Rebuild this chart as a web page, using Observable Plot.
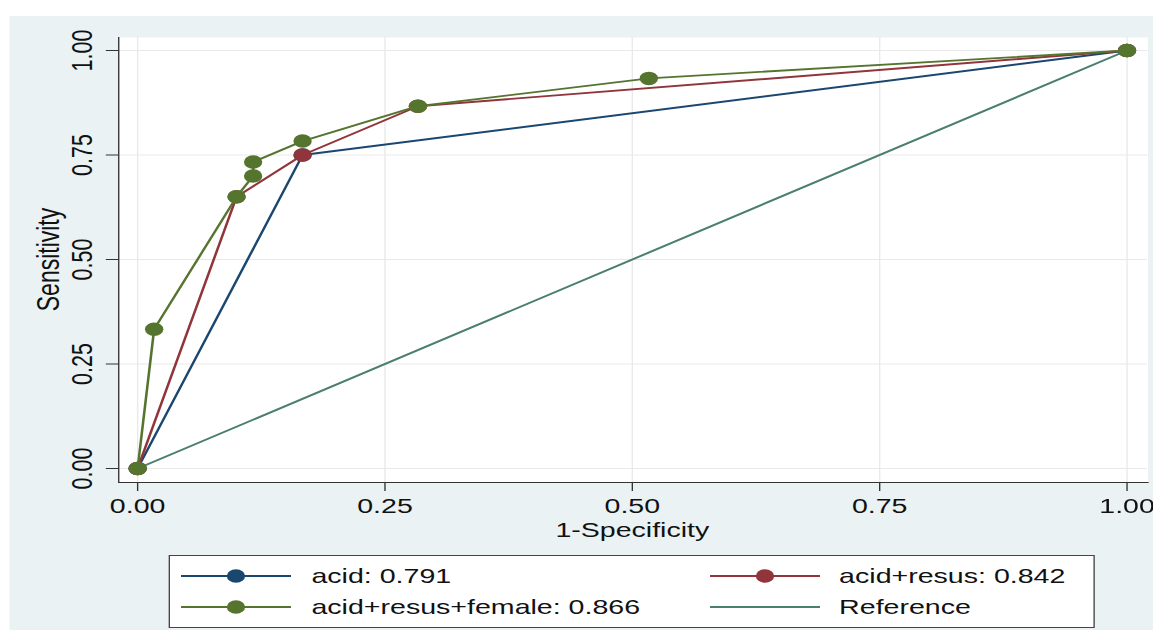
<!DOCTYPE html>
<html><head><meta charset="utf-8">
<script src="https://cdn.jsdelivr.net/npm/d3@7"></script>
<script src="https://cdn.jsdelivr.net/npm/@observablehq/plot@0.6"></script>
<style>
html,body{margin:0;padding:0;background:#fff;width:1153px;height:630px;overflow:hidden;font-family:"Liberation Sans",Arial,sans-serif;}
#wrap{position:absolute;left:0;top:0;width:848px;height:630px;transform:scaleX(1.36);transform-origin:0 0;}
#bg{position:absolute;left:7.4px;top:16px;right:0;bottom:0;background:#eaf2f3;}
#chart{position:absolute;left:0;top:0;}
#legend{position:absolute;left:123.5px;top:555px;width:681px;height:73px;background:#fff;border:1px solid #444;box-sizing:border-box;}
.item{position:absolute;height:24px;}
.item svg{position:absolute;left:0;top:2px;}
.item span{position:absolute;top:0;white-space:nowrap;font-size:21px;line-height:24px;color:#111;}
</style>
</head><body>
<div id="wrap"><div id="bg"></div><div id="chart"></div><div id="legend"></div></div>
<script>
// ---- data ----
const xTicks = [0, 0.25, 0.5, 0.75, 1];
const yTicks = [0, 0.25, 0.5, 0.75, 1];
const seriesNames = ["acid: 0.791", "acid+resus: 0.842", "acid+resus+female: 0.866", "Reference"];
const seriesColors = ["#1a476f", "#90353b", "#55752f", "#4a7e70"];
const acidX = [0, 0.1667, 1];
const acidY = [0, 0.75, 1];
const resusX = [0, 0.1, 0.1667, 0.2833, 1];
const resusY = [0, 0.65, 0.75, 0.8667, 1];
const femaleX = [0, 0.0167, 0.1, 0.1167, 0.1167, 0.1667, 0.2833, 0.5167, 1];
const femaleY = [0, 0.3333, 0.65, 0.7, 0.7333, 0.7833, 0.8667, 0.9333, 1];
const refX = [0, 1];
const refY = [0, 1];
const xLabel = "1-Specificity";
const yLabel = "Sensitivity";

const toRows = (xs, ys) => xs.map((x, i) => ({x, y: ys[i]}));
const series = [
  {rows: toRows(acidX, acidY), color: seriesColors[0], markers: true},
  {rows: toRows(resusX, resusY), color: seriesColors[1], markers: true},
  {rows: toRows(femaleX, femaleY), color: seriesColors[2], markers: true}
];
const ref = {rows: toRows(refX, refY), color: seriesColors[3]};

const seriesMarks = [];
seriesMarks.push(Plot.line(ref.rows, {x: "x", y: "y", stroke: ref.color, strokeWidth: 1.9}));
for (const s of series) {
  seriesMarks.push(Plot.line(s.rows, {x: "x", y: "y", stroke: s.color, strokeWidth: 1.9}));
  seriesMarks.push(Plot.dot(s.rows, {x: "x", y: "y", r: 6.75, fill: s.color, stroke: "none"}));
}

const chart = Plot.plot({
  width: 848, height: 545,
  marginLeft: 86.8, marginRight: 4.4, marginTop: 37, marginBottom: 63,
  style: {background: "transparent", fontFamily: "'Liberation Sans', Arial, sans-serif", color: "#111", overflow: "visible"},
  x: {domain: [0, 1], insetLeft: 13.9, insetRight: 15.4},
  y: {domain: [0, 1], insetTop: 13, insetBottom: 14},
  marks: [
    Plot.frame({fill: "white", stroke: "none"}),
    Plot.gridX(xTicks, {stroke: "#e9e9e9", strokeOpacity: 1}),
    Plot.gridY(yTicks, {stroke: "#e9e9e9", strokeOpacity: 1}),
    Plot.frame({anchor: "left", stroke: "#333"}),
    Plot.frame({anchor: "bottom", stroke: "#333"}),
    Plot.axisX({ticks: xTicks, tickSize: 9, tickPadding: 7, tickFormat: d => d.toFixed(2), fontSize: 21, label: null, stroke: "#333"}),
    Plot.axisY({ticks: yTicks, tickSize: 9, tickFormat: () => "", label: null, stroke: "#333"}),
    Plot.text(yTicks, {y: d => d, text: d => d.toFixed(2), frameAnchor: "left", dx: -26.5, rotate: -90, fontSize: 21.5, textAnchor: "middle", fill: "#111"}),
    Plot.text([0.5], {x: d => d, text: () => xLabel, frameAnchor: "bottom", dy: 48, fontSize: 21, lineAnchor: "middle", fill: "#111"}),
    Plot.text([0.5], {y: d => d, text: () => yLabel, frameAnchor: "left", dx: -51, rotate: -90, fontSize: 23, textAnchor: "middle", fill: "#111"}),
    ...seriesMarks
  ]
});
document.getElementById("chart").appendChild(chart);

// ---- legend ----
const legend = document.getElementById("legend");
const colSwatch = [8.5, 397.5], colText = [104.5, 492.5], rowTop = [8, 39];
seriesNames.forEach((name, i) => {
  const c = i % 2, r = Math.floor(i / 2);
  const it = document.createElement("div");
  it.className = "item";
  it.style.left = "0px"; it.style.top = rowTop[r] + "px"; it.style.width = "670px";
  const ns = "http://www.w3.org/2000/svg";
  const svg = document.createElementNS(ns, "svg");
  svg.setAttribute("width", 81); svg.setAttribute("height", 20);
  svg.style.left = colSwatch[c] + "px";
  const ln = document.createElementNS(ns, "line");
  ln.setAttribute("x1", 0); ln.setAttribute("x2", 81); ln.setAttribute("y1", 10); ln.setAttribute("y2", 10);
  ln.setAttribute("stroke", seriesColors[i]); ln.setAttribute("stroke-width", 1.8);
  svg.appendChild(ln);
  if (i < 3) {
    const ci = document.createElementNS(ns, "circle");
    ci.setAttribute("cx", 40.5); ci.setAttribute("cy", 10); ci.setAttribute("r", 6.75);
    ci.setAttribute("fill", seriesColors[i]);
    svg.appendChild(ci);
  }
  it.appendChild(svg);
  const sp = document.createElement("span");
  sp.textContent = name; sp.style.left = colText[c] + "px";
  it.appendChild(sp);
  legend.appendChild(it);
});
</script>
</body></html>
